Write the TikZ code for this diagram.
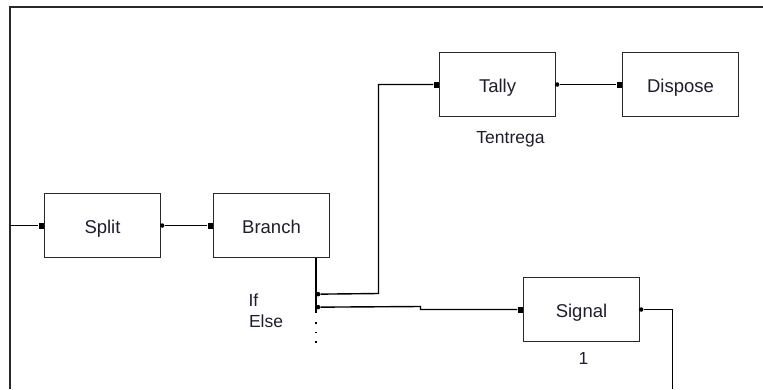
\documentclass[tikz,border=0pt]{standalone}
\usepackage{fontspec}
\setmainfont{Liberation Sans}
\usetikzlibrary{positioning, calc}
\definecolor{boxline}{RGB}{40, 40, 40}
\definecolor{txtdark}{RGB}{30, 30, 45}

\begin{document}
\begin{tikzpicture}[
  x=1pt, y=-1pt,
  every node/.style={font=\fontsize{17.5}{20}\selectfont, text=txtdark},
  block/.style={draw=boxline, line width=1.3pt, fill=white,
    minimum width=116pt, minimum height=64pt, inner sep=0pt,
    text height=16pt, text depth=0pt, font=\fontsize{18.5}{21}\selectfont},
  inport/.style={fill=black, minimum width=5pt, minimum height=6pt,
    inner sep=0pt, anchor=east},
  outport/.style={circle, fill=black, minimum size=4.5pt, inner sep=0pt},
  wire/.style={black, line width=1.4pt},
  tag/.style={anchor=base},
]
\useasboundingbox (0,0) rectangle (763,389);

% Frame
\draw[line width=2pt, boxline] (763,6.5) -- (9.5,6.5) -- (9.5,389);

% Blocks
\foreach \name/\x/\y in {Split/102.5/225.5, Branch/271.5/225.5, Tally/497.5/84.5,
  Dispose/680.5/84.5, Signal/581.5/309.5}{
  \node[block] (\name) at (\x,\y) {\name};
  \node[inport] (\name-in) at (\name.west) {};
}
\foreach \name in {Split, Tally, Signal}{
  \node[outport] (\name-out) at ([xshift=1pt]\name.east) {};
}

% Labels
\node[tag] (Tally-tag) at ($(Tally.south)+(13,26)$) {Tentrega};
\node[tag] (Signal-tag) at ($(Signal.south)+(2,22)$) {1};
\node[tag, anchor=base west] (if-tag) at (245,306.5) {If};
\node[tag, anchor=base west] (else-tag) at (245.5,327) {Else};

% Branch exits
\coordinate (bar-top) at ($(Branch.south east)+(-14,0)$);
\coordinate (bar-end) at ($(bar-top)+(0,55)$);
\node[outport] (if-port) at ($(bar-top)+(2,36)$) {};
\node[outport] (else-port) at ($(bar-top)+(2,49)$) {};
\draw[wire] (bar-top) -- (bar-end);
\draw[black, line width=1.6pt, dash pattern=on 1.6pt off 8pt]
  ($(bar-end)+(0,9)$) -- ($(bar-end)+(0,31)$);

% Connectors
\coordinate (entry) at (Split-in.west -| 9.5,0);
\coordinate (exit) at (672.5,389);
\draw[wire] (entry) -- (Split-in.west);
\draw[wire] (Split-out) -- (Branch-in.west);
\draw[wire] (if-port) -- (378.5,293.5) |- (Tally-in.west);
\draw[wire] (Tally-out) -- (Dispose-in.west);
\draw[wire] (else-port) -- (420.5,306.5) |- (Signal-in.west);
\draw[wire] (Signal-out) -| (exit);

\end{tikzpicture}
\end{document}
